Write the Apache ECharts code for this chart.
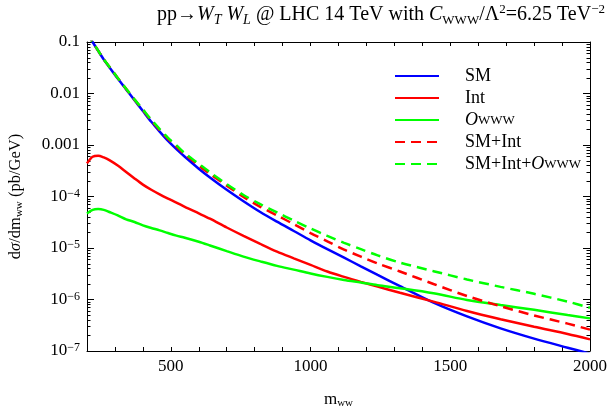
<!DOCTYPE html>
<html><head><meta charset="utf-8">
<script src="https://cdn.jsdelivr.net/npm/echarts@6/dist/echarts.min.js"></script>
<style>html,body{margin:0;padding:0;background:#fff}#c{width:608px;height:411px}</style>
</head><body><div id="c"></div>
<script>
// m_ww values (GeV)
const mww = [200, 220, 240, 260, 280, 310, 340, 370, 400, 430, 460, 490, 520, 550, 600, 640, 700, 760, 820, 880, 940, 1000, 1060, 1120, 1180, 1240, 1320, 1440, 1560, 1680, 1800, 1920, 2000];
// dσ/dm_ww (pb/GeV)
const sm = [0.151, 0.100, 0.0676, 0.0457, 0.0324, 0.0195, 0.0120, 0.00741, 0.00457, 0.00282, 0.00182, 0.00120, 8.3e-4, 5.9e-4, 3.47e-4, 2.34e-4, 1.35e-4, 8.1e-5, 5.0e-5, 3.24e-5, 2.14e-5, 1.41e-5, 9.5e-6, 6.5e-6, 4.4e-6, 3.0e-6, 1.82e-6, 8.7e-7, 4.7e-7, 2.75e-7, 1.74e-7, 1.16e-7, 8.9e-8];
const intf = [4.4e-4, 5.9e-4, 6.2e-4, 5.75e-4, 5.1e-4, 4.0e-4, 3.0e-4, 2.24e-4, 1.7e-4, 1.35e-4, 1.1e-4, 9.1e-5, 7.6e-5, 6.3e-5, 4.7e-5, 3.7e-5, 2.5e-5, 1.72e-5, 1.2e-5, 8.5e-6, 6.3e-6, 4.7e-6, 3.5e-6, 2.75e-6, 2.2e-6, 1.78e-6, 1.35e-6, 9.1e-7, 6.0e-7, 4.15e-7, 2.95e-7, 2.14e-7, 1.68e-7];
const owww = [4.7e-5, 5.5e-5, 5.7e-5, 5.5e-5, 5.0e-5, 4.3e-5, 3.6e-5, 3.2e-5, 2.75e-5, 2.45e-5, 2.2e-5, 1.95e-5, 1.74e-5, 1.58e-5, 1.32e-5, 1.12e-5, 8.7e-6, 6.8e-6, 5.5e-6, 4.5e-6, 3.8e-6, 3.2e-6, 2.75e-6, 2.4e-6, 2.14e-6, 1.9e-6, 1.66e-6, 1.32e-6, 9.8e-7, 7.8e-7, 6.3e-7, 5.0e-7, 4.3e-7];
const smInt = [0.151, 0.100, 0.0677, 0.0458, 0.0331, 0.0200, 0.0123, 0.0076, 0.0048, 0.0030, 0.00195, 0.00132, 9.3e-4, 6.6e-4, 4.0e-4, 2.75e-4, 1.62e-4, 9.8e-5, 6.3e-5, 4.3e-5, 2.9e-5, 1.95e-5, 1.35e-5, 9.3e-6, 6.8e-6, 5.0e-6, 3.5e-6, 2.0e-6, 1.17e-6, 7.4e-7, 4.9e-7, 3.4e-7, 2.6e-7];
const smIntO = [0.151, 0.100, 0.0678, 0.0459, 0.0332, 0.0200, 0.0124, 0.0077, 0.0049, 0.0031, 0.00204, 0.00138, 9.8e-4, 6.9e-4, 4.3e-4, 2.95e-4, 1.74e-4, 1.07e-4, 7.1e-5, 4.9e-5, 3.4e-5, 2.4e-5, 1.72e-5, 1.26e-5, 9.5e-6, 7.2e-6, 5.2e-6, 3.55e-6, 2.45e-6, 1.76e-6, 1.29e-6, 9.1e-7, 6.9e-7];
const seriesNames = ['SM', 'Int', 'Owww', 'SM+Int', 'SM+Int+Owww'];
const legendLabels = ['SM', 'Int', '{i|O}{sub|WWW}', 'SM+Int', 'SM+Int+{i|O}{sub|WWW}'];
const xTickLabels = [500, 1000, 1500, 2000];
// y tick labels by decade exponent (-7 .. -1)
const yTickExp = [-7, -6, -5, -4, -3, -2, -1];
const yTickLabels = ['10{sup|−7}', '10{sup|−6}', '10{sup|−5}', '10{sup|−4}', '0.001', '0.01', '0.1'];

const FF = 'Liberation Serif';
const chart = echarts.init(document.getElementById('c'), null, {renderer: 'canvas'});
const colors = ['#0000ff', '#ff0000', '#00ff00', '#ff0000', '#00ff00'];
const dashes = ['solid', 'solid', 'solid', [10, 6], [10, 6]];
const datas = [sm, intf, owww, smInt, smIntO];

const frameAxisCommon = {
  axisLine: {show: true, lineStyle: {color: '#000', width: 1}},
  splitLine: {show: false}
};

chart.setOption({
  animation: false,
  backgroundColor: '#fff',
  title: {
    text: 'pp→{i|W}{isub|T}{i| W}{isub|L} @ LHC 14 TeV with {i|C}{sub|WWW}/Λ{sup|2}=6.25 TeV{sup|−2}',
    left: 157, top: 3, padding: 0,
    textStyle: {
      fontFamily: FF, fontSize: 20, fontWeight: 'normal', color: '#000', lineHeight: 24,
      rich: {
        i: {fontStyle: 'italic', fontFamily: FF, fontSize: 20, color: '#000', lineHeight: 24},
        isub: {fontStyle: 'italic', fontFamily: FF, fontSize: 14, color: '#000', verticalAlign: 'bottom', lineHeight: 12},
        sub: {fontFamily: FF, fontSize: 13, color: '#000', verticalAlign: 'bottom', lineHeight: 12},
        sup: {fontFamily: FF, fontSize: 13, color: '#000', verticalAlign: 'top', lineHeight: 11}
      }
    }
  },
  grid: {left: 87, right: 18, top: 42, bottom: 60, containLabel: false, outerBoundsMode: 'none'},
  legend: {
    orient: 'vertical', left: 394, top: 67, padding: 0,
    itemWidth: 44, itemHeight: 14, itemGap: 4,
    itemStyle: {opacity: 0},
    data: seriesNames,
    formatter: function (name) { return '{gap|}' + legendLabels[seriesNames.indexOf(name)]; },
    textStyle: {
      fontFamily: FF, fontSize: 18, color: '#000', lineHeight: 14,
      rich: {
        gap: {width: 21, lineHeight: 14},
        i: {fontStyle: 'italic', fontFamily: FF, fontSize: 18, color: '#000', lineHeight: 14},
        sub: {fontFamily: FF, fontSize: 13, color: '#000', verticalAlign: 'bottom', lineHeight: 2}
      }
    }
  },
  xAxis: [
    Object.assign({
      type: 'value', min: 200, max: 2000, interval: 100, position: 'bottom',
      axisTick: {show: true, inside: true, length: 4, lineStyle: {color: '#000'}},
      axisLabel: {
        show: true, margin: 7, fontFamily: FF, fontSize: 17, color: '#000',
        formatter: function (v) { return xTickLabels.indexOf(v) >= 0 ? String(v) : ''; }
      },
      name: 'm{sub|ww}', nameLocation: 'middle', nameGap: 40, nameMoveOverlap: false,
      nameTextStyle: {fontFamily: FF, fontSize: 17, color: '#000', lineHeight: 18,
        rich: {sub: {fontFamily: FF, fontSize: 11, color: '#000', verticalAlign: 'bottom', lineHeight: 10}}}
    }, frameAxisCommon),
    Object.assign({
      type: 'value', min: 200, max: 2000, interval: 100, position: 'top',
      axisTick: {show: true, inside: true, length: 4, lineStyle: {color: '#000'}},
      axisLabel: {show: false}
    }, frameAxisCommon)
  ],
  yAxis: [
    Object.assign({
      type: 'log', logBase: 10, min: 1e-7, max: 0.1, interval: 1, position: 'left',
      axisTick: {show: true, inside: true, length: 7, lineStyle: {color: '#000'}},
      axisLabel: {
        show: true, margin: 7, fontFamily: FF, fontSize: 17, color: '#000', lineHeight: 18,
        formatter: function (v) {
          const e = Math.round(Math.log10(v));
          const k = yTickExp.indexOf(e);
          return k >= 0 ? yTickLabels[k] : '';
        },
        rich: {sup: {fontFamily: FF, fontSize: 12, color: '#000', verticalAlign: 'top', lineHeight: 10}}
      },
      name: 'd{i|σ}/dm{sub|ww} (pb/GeV)', nameLocation: 'middle', nameGap: 62, nameRotate: 90, nameMoveOverlap: false,
      nameTextStyle: {fontFamily: FF, fontSize: 16.5, color: '#000', lineHeight: 18,
        rich: {
          i: {fontStyle: 'italic', fontFamily: FF, fontSize: 16.5, color: '#000', lineHeight: 18},
          sub: {fontFamily: FF, fontSize: 11, color: '#000', verticalAlign: 'bottom', lineHeight: 10}
        }}
    }, frameAxisCommon),
    Object.assign({
      type: 'log', logBase: 10, min: 1e-7, max: 0.1, interval: 1, position: 'right',
      axisTick: {show: true, inside: true, length: 7, lineStyle: {color: '#000'}},
      axisLabel: {show: false}
    }, frameAxisCommon)
  ],
  series: seriesNames.map(function (n, k) {
    return {
      name: n, type: 'line', xAxisIndex: 0, yAxisIndex: 0,
      symbol: 'none', showSymbol: false, smooth: 0.3, clip: true,
      lineStyle: {color: colors[k], width: 2.5, type: dashes[k]},
      itemStyle: {color: colors[k]},
      data: mww.map(function (x, i) { return [x, datas[k][i]]; }),
      z: 2 + k
    };
  })
});

// log minor ticks (2..9 per decade) placed through the axis scale
const gfx = [];
const xl = chart.convertToPixel({xAxisIndex: 0}, 200);
const xr = chart.convertToPixel({xAxisIndex: 0}, 2000);
for (let e = -7; e < -1 + 0.5; e++) {
  for (let m = 2; m <= 9; m++) {
    const v = m * Math.pow(10, e);
    if (v > 0.1 || v < 1e-7) continue;
    const y = Math.round(chart.convertToPixel({yAxisIndex: 0}, v)) + 0.5;
    gfx.push({type: 'line', shape: {x1: xl, y1: y, x2: xl + 3.5, y2: y}, style: {stroke: '#000', lineWidth: 1}, silent: true});
    gfx.push({type: 'line', shape: {x1: xr, y1: y, x2: xr - 3.5, y2: y}, style: {stroke: '#000', lineWidth: 1}, silent: true});
  }
}
chart.setOption({graphic: gfx});
</script>
</body></html>
